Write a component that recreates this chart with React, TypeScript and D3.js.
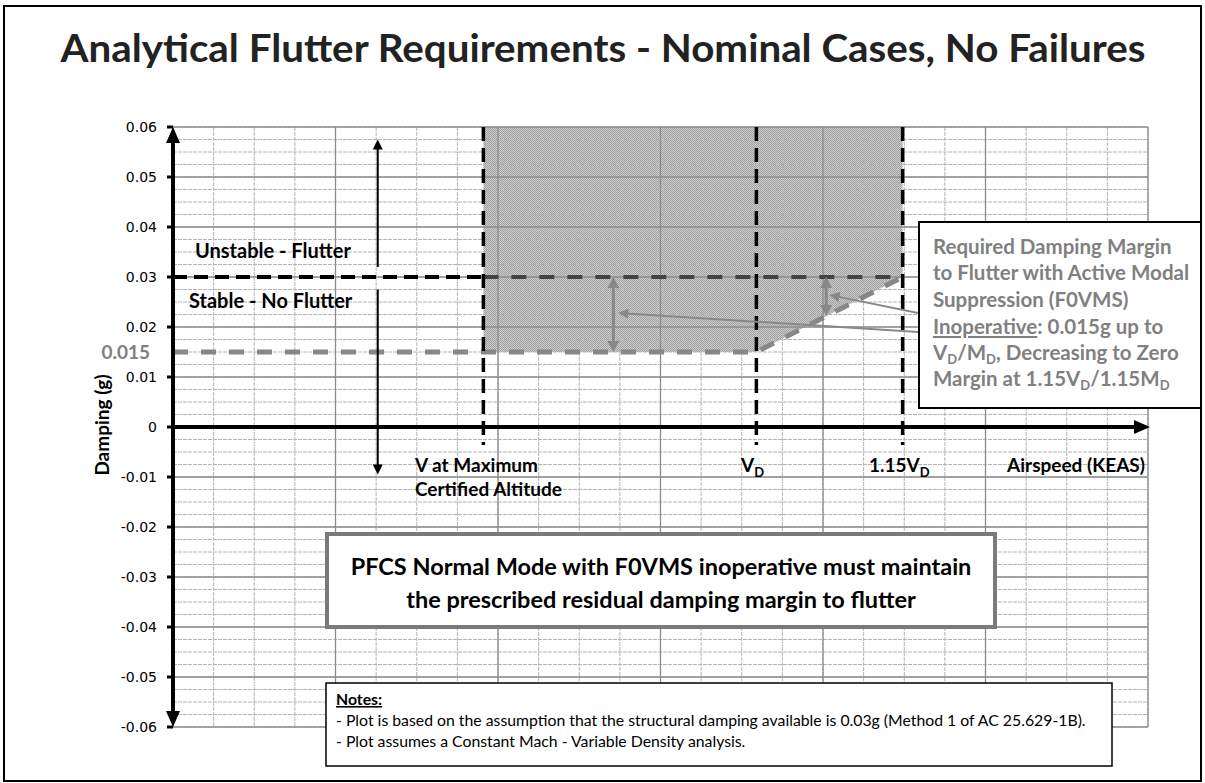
import React from 'react';
import * as d3 from 'd3';

// axis domains
const airspeedDomain = [0, 600];
const dampingDomain = [-0.06, 0.06];

// y tick labels
const yTickValues = [0.06, 0.05, 0.04, 0.03, 0.02, 0.01, 0, -0.01, -0.02, -0.03, -0.04, -0.05, -0.06];
const yTickLabels = ['0.06', '0.05', '0.04', '0.03', '0.02', '0.01', '0', '-0.01', '-0.02', '-0.03', '-0.04', '-0.05', '-0.06'];

// speeds (KEAS, schematic)
const vAltitude = 191;
const vD = 359;
const v115D = 449;

// damping levels
const structuralDamping = 0.03;
const requiredMargin = 0.015;

// required damping boundary (speed, damping)
const requiredCurve: [number, number][] = [
  [0, 0.015],
  [359, 0.015],
  [449, 0.03],
];

// shaded region (speed, damping)
const shadedRegion: [number, number][] = [
  [191, 0.06],
  [449, 0.06],
  [449, 0.03],
  [359, 0.015],
  [191, 0.015],
];

// margin arrows [speed, from, to]
const marginArrows: [number, number, number][] = [
  [271, 0.03, 0.015],
  [402, 0.03, 0.0222],
];

// pointer lines [fromSpeed, fromDamping, toSpeed, toDamping]
const pointers: [number, number, number, number][] = [
  [458.5, 0.019, 274, 0.0228],
  [458.5, 0.0228, 404, 0.0264],
];

const W = 1205;
const H = 783;
const M = { left: 173, right: 1148, top: 127, bottom: 727 };

const x = d3.scaleLinear().domain(airspeedDomain).range([M.left, M.right]);
const y = d3.scaleLinear().domain(dampingDomain).range([M.bottom, M.top]);

const FONT = 'Lato, "Open Sans", sans-serif';

function arrowHead(px: number, py: number, dir: 'up' | 'down' | 'left' | 'right', len: number, half: number) {
  if (dir === 'up') return `M${px},${py}L${px - half},${py + len}L${px + half},${py + len}Z`;
  if (dir === 'down') return `M${px},${py}L${px - half},${py - len}L${px + half},${py - len}Z`;
  if (dir === 'right') return `M${px},${py}L${px - len},${py - half}L${px - len},${py + half}Z`;
  return `M${px},${py}L${px + len},${py - half}L${px + len},${py + half}Z`;
}

export default function App() {
  const xMinor = d3.range(airspeedDomain[0], airspeedDomain[1] + 1, 25);
  const xMajor = d3.range(airspeedDomain[0], airspeedDomain[1] + 1, 100);
  const yMinor = d3.range(-0.06, 0.0601, 0.0025);
  const line = d3
    .line<[number, number]>()
    .x((d) => x(d[0]))
    .y((d) => y(d[1]));

  const vLineBottom = y(-0.0036);
  const upArrowTop = y(0.0575);
  const upArrowBottom = y(0.032);
  const downArrowTop = y(0.0275);
  const downArrowBottom = y(-0.0095);
  const arrowX = x(126);

  return (
    <svg width={W} height={H} style={{ position: 'absolute', left: 0, top: 0, background: '#fff' }}>
      <defs>
        <pattern id="shade" width="2" height="2" patternUnits="userSpaceOnUse">
          <rect width="2" height="2" fill="#cdcdcd" />
          <rect width="1" height="1" fill="#a0a0a0" />
          <rect x="1" y="1" width="1" height="1" fill="#a0a0a0" />
        </pattern>
      </defs>
      <rect x={4} y={6} width={1197} height={775} fill="#fff" stroke="#000" strokeWidth={2} />

      <text x={603} y={62} textAnchor="middle" fontFamily={FONT} fontWeight="bold" fontSize={39} fill="#222" textLength={1085} lengthAdjust="spacingAndGlyphs">
        Analytical Flutter Requirements - Nominal Cases, No Failures
      </text>

      {/* shaded region */}
      <path d={line(shadedRegion) + 'Z'} fill="url(#shade)" />

      {/* grid */}
      <g>
        {yMinor.map((v, i) => (
          <line key={'ym' + i} x1={M.left} x2={M.right} y1={y(v)} y2={y(v)} stroke="#b4b4b4" strokeWidth={1} strokeDasharray="4 1" />
        ))}
        {xMinor.map((v, i) => (
          <line key={'xm' + i} x1={x(v)} x2={x(v)} y1={M.top} y2={M.bottom} stroke="#b4b4b4" strokeWidth={1} strokeDasharray="4 1" />
        ))}
        {yTickValues.map((v, i) => (
          <line key={'yM' + i} x1={M.left} x2={M.right} y1={y(v)} y2={y(v)} stroke="#8c8c8c" strokeWidth={1.3} />
        ))}
        {xMajor.map((v, i) => (
          <line key={'xM' + i} x1={x(v)} x2={x(v)} y1={M.top} y2={M.bottom} stroke="#8c8c8c" strokeWidth={1.3} />
        ))}
      </g>

      {/* y tick labels + ticks */}
      {yTickValues.map((v, i) => (
        <g key={'yt' + i}>
          <line x1={M.left - 6} x2={M.left} y1={y(v)} y2={y(v)} stroke="#000" strokeWidth={3} />
          <text x={157} y={y(v) + 5} textAnchor="end" fontFamily="DejaVu Sans, sans-serif" fontSize={14} fill="#000">
            {yTickLabels[i]}
          </text>
        </g>
      ))}

      <text
        transform={`translate(${109},${y(0) - 2}) rotate(-90)`}
        textAnchor="middle"
        fontFamily={FONT}
        fontWeight="bold"
        fontSize={19}
        fill="#000"
      >
        Damping (g)
      </text>

      {/* required margin line (gray dashed) */}
      <path d={line(requiredCurve) || ''} fill="none" stroke="#878787" strokeWidth={5} strokeDasharray="15 13" />

      {/* structural damping line */}
      <line x1={x(0)} x2={x(vAltitude)} y1={y(structuralDamping)} y2={y(structuralDamping)} stroke="#000" strokeWidth={4} strokeDasharray="14 7" />
      <line x1={x(vAltitude)} x2={x(v115D)} y1={y(structuralDamping)} y2={y(structuralDamping)} stroke="#444" strokeWidth={4} strokeDasharray="15 13" />

      {/* vertical speed lines */}
      {[vAltitude, vD, v115D].map((v, i) => (
        <line key={'vs' + i} x1={x(v)} x2={x(v)} y1={M.top} y2={vLineBottom} stroke="#000" strokeWidth={3.5} strokeDasharray="14 7" />
      ))}

      {/* margin arrows */}
      {marginArrows.map(([s, a, b], i) => (
        <g key={'ma' + i} fill="#888">
          <line x1={x(s)} x2={x(s)} y1={y(a) + 10} y2={y(b) - 10} stroke="#888" strokeWidth={3} />
          <path d={arrowHead(x(s), y(a), 'up', 11, 6)} />
          <path d={arrowHead(x(s), y(b), 'down', 11, 6)} />
        </g>
      ))}

      {/* pointer lines */}
      {pointers.map(([s0, d0, s1, d1], i) => {
        const x0 = x(s0), y0 = y(d0), x1 = x(s1), y1 = y(d1);
        const ang = (Math.atan2(y0 - y1, x0 - x1) * 180) / Math.PI;
        return (
          <g key={'pt' + i}>
            <line x1={x0} y1={y0} x2={x1 + 8} y2={y1 + ((y0 - y1) * 8) / (x0 - x1)} stroke="#888" strokeWidth={2} />
            <path d="M0,0L10,-5L10,5Z" fill="#888" transform={`translate(${x1},${y1}) rotate(${ang})`} />
          </g>
        );
      })}

      {/* stability double arrow */}
      <line x1={arrowX} x2={arrowX} y1={upArrowTop + 8} y2={upArrowBottom} stroke="#000" strokeWidth={2} />
      <path d={arrowHead(arrowX, upArrowTop, 'up', 10, 5)} fill="#000" />
      <line x1={arrowX} x2={arrowX} y1={downArrowTop} y2={downArrowBottom - 8} stroke="#000" strokeWidth={2} />
      <path d={arrowHead(arrowX, downArrowBottom, 'down', 10, 5)} fill="#000" />

      {/* axes */}
      <line x1={M.left} x2={M.left} y1={M.top + 12} y2={M.bottom - 12} stroke="#000" strokeWidth={4} />
      <path d={arrowHead(M.left, M.top, 'up', 16, 7)} fill="#000" />
      <path d={arrowHead(M.left, M.bottom, 'down', 16, 7)} fill="#000" />
      <line x1={M.left} x2={M.right - 12} y1={y(0)} y2={y(0)} stroke="#000" strokeWidth={4} />
      <path d={arrowHead(M.right + 2, y(0), 'right', 16, 7)} fill="#000" />

      {/* labels */}
      <g fontFamily={FONT} fontWeight="bold" fill="#000">
        <text x={195} y={258} fontSize={20}>Unstable - Flutter</text>
        <text x={189} y={308} fontSize={20}>Stable - No Flutter</text>
        <text x={150} y={y(requiredMargin) + 7} fontSize={19} textAnchor="end" fill="#808080">0.015</text>
        <text x={415} y={472} fontSize={19}>V at Maximum</text>
        <text x={415} y={496} fontSize={19}>Certified Altitude</text>
        <text x={741} y={472} fontSize={19}>
          V<tspan fontSize={13} dy={5}>D</tspan>
        </text>
        <text x={869} y={472} fontSize={19}>
          1.15V<tspan fontSize={13} dy={5}>D</tspan>
        </text>
        <text x={1145} y={472} fontSize={19} textAnchor="end">Airspeed (KEAS)</text>
      </g>

      {/* annotation box */}
      <rect x={919} y={222} width={282} height={186} fill="#fff" stroke="#000" strokeWidth={2} />
      <g fontFamily={FONT} fontWeight="bold" fontSize={20.5} fill="#808080">
        <text x={933} y={254}>Required Damping Margin</text>
        <text x={933} y={280}>to Flutter with Active Modal</text>
        <text x={933} y={307}>Suppression (F0VMS)</text>
        <text x={933} y={334}>
          <tspan textDecoration="underline">Inoperative</tspan>: 0.015g up to
        </text>
        <text x={933} y={360}>
          V<tspan fontSize={13} dy={4}>D</tspan>
          <tspan dy={-4}>/M</tspan>
          <tspan fontSize={13} dy={4}>D</tspan>
          <tspan dy={-4}>,  Decreasing to Zero</tspan>
        </text>
        <text x={933} y={386}>
          Margin at 1.15V<tspan fontSize={13} dy={4}>D</tspan>
          <tspan dy={-4}>/1.15M</tspan>
          <tspan fontSize={13} dy={4}>D</tspan>
        </text>
      </g>

      {/* center box */}
      <rect x={327} y={534} width={668} height={93} fill="#fff" stroke="#7a7a7a" strokeWidth={4} />
      <g fontFamily={FONT} fontWeight="bold" fontSize={23.5} fill="#000" textAnchor="middle">
        <text x={661} y={575}>PFCS Normal Mode with F0VMS inoperative must maintain</text>
        <text x={661} y={608}>the prescribed residual damping margin to flutter</text>
      </g>

      {/* notes box */}
      <rect x={326} y={683} width={786} height={83} fill="#fff" stroke="#000" strokeWidth={1.5} />
      <g fontFamily={FONT} fontSize={15.8} fill="#000">
        <text x={336} y={705} fontWeight="bold" textDecoration="underline">Notes:</text>
        <text x={336} y={726}>- Plot is based on the assumption that the structural damping available  is 0.03g (Method 1 of AC 25.629-1B).</text>
        <text x={336} y={747}>- Plot assumes  a Constant Mach - Variable Density analysis.</text>
      </g>
    </svg>
  );
}
